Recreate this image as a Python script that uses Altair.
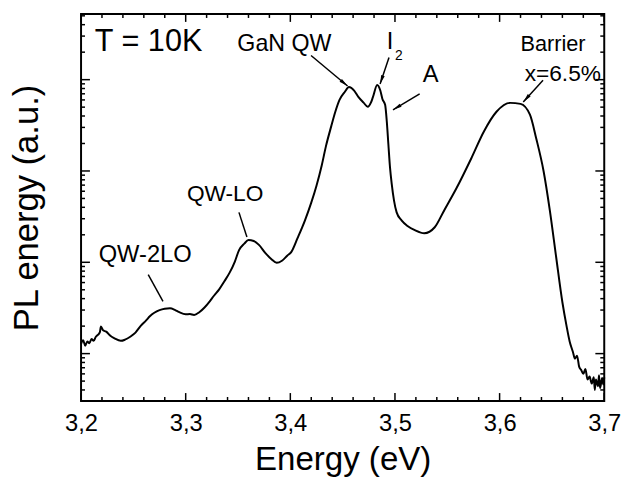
import math
import altair as alt
import pandas as pd

# ---------------- data ----------------
energy = [3.200, 3.202, 3.204, 3.206, 3.208, 3.210, 3.212, 3.214, 3.216, 3.218,
          3.219, 3.221, 3.224, 3.228, 3.232, 3.238, 3.242, 3.247, 3.252, 3.257,
          3.262, 3.266, 3.270, 3.275, 3.280, 3.285, 3.290, 3.294, 3.300, 3.304,
          3.308, 3.313, 3.318, 3.323, 3.327, 3.332, 3.337, 3.342, 3.347, 3.351,
          3.356, 3.360, 3.365, 3.370, 3.376, 3.382, 3.387, 3.392, 3.397, 3.401,
          3.407, 3.414, 3.420, 3.425, 3.430, 3.434, 3.439, 3.443, 3.447, 3.452,
          3.456, 3.461, 3.465, 3.470, 3.474, 3.477, 3.479, 3.483, 3.486, 3.488,
          3.4906, 3.4922, 3.4937, 3.4953, 3.4969, 3.4991, 3.5016, 3.5063, 3.512, 3.519,
          3.528, 3.538, 3.547, 3.559, 3.573, 3.585, 3.597, 3.610, 3.620, 3.629,
          3.635, 3.642, 3.648, 3.654, 3.660, 3.664, 3.667, 3.670, 3.672, 3.674,
          3.676, 3.678, 3.680, 3.682, 3.684, 3.686, 3.688, 3.690, 3.691, 3.692,
          3.694, 3.695, 3.696, 3.698, 3.699, 3.700]
intensity = [1.28, 1.40, 1.22, 1.36, 1.30, 1.45, 1.38, 1.52, 1.60, 1.72,
             1.98, 1.80, 1.74, 1.57, 1.47, 1.38, 1.42, 1.53, 1.70, 2.01,
             2.30, 2.58, 2.80, 2.99, 3.10, 3.14, 3.00, 2.84, 2.70, 2.71,
             2.65, 2.84, 3.20, 3.74, 4.30, 5.05, 6.20, 7.70, 10.2, 13.6,
             16.0, 17.5, 17.1, 15.5, 12.7, 10.8, 9.88, 10.4, 11.8, 13.0,
             18.5, 28.8, 45.0, 69.0, 115.0, 186.0, 306.0, 445.0, 600.0, 733.0,
             830.0, 760.0, 647.0, 560.0, 505.0, 560.0, 647.0, 873.0, 760.0, 615.0,
             530.0, 347.0, 196.0, 108.0, 72.3, 47.4, 35.2, 28.8, 25.0, 22.5,
             20.8, 24.2, 37.0, 65.5, 138.0, 271.0, 445.0, 557.0, 543.0, 413.0,
             227.0, 100.0, 37.0, 11.5, 3.65, 2.0, 1.35, 1.05, 0.88, 0.95,
             0.72, 0.66, 0.60, 0.68, 0.52, 0.56, 0.47, 0.55, 0.40, 0.52,
             0.44, 0.58, 0.42, 0.54, 0.46, 0.55]

x_major = [3.2, 3.3, 3.4, 3.5, 3.6, 3.7]
x_minor = [3.22, 3.24, 3.26, 3.28, 3.32, 3.34, 3.36, 3.38, 3.42, 3.44, 3.46, 3.48,
           3.52, 3.54, 3.56, 3.58, 3.62, 3.64, 3.66, 3.68]
y_major = [1, 10, 100, 1000]
y_minor = [0.4, 0.5, 0.6, 0.7, 0.8, 0.9,
           2, 3, 4, 5, 6, 7, 8, 9,
           20, 30, 40, 50, 60, 70, 80, 90,
           200, 300, 400, 500, 600, 700, 800, 900,
           2000, 3000, 4000, 5000]

# annotation texts and their anchor points (energy, intensity)
label_text = ["T = 10K", "GaN QW", "I", "2", "A", "Barrier", "x=6.5%", "QW-LO", "QW-2LO"]
label_e = [3.2132, 3.3943, 3.4953, 3.5038, 3.5340, 3.6510, 3.6604, 3.3377, 3.2613]
label_i = [2608, 2481, 2608, 1795, 1119, 2481, 1146, 56.4, 12.05]

# annotation lines: start (e0, i0) -> end (e1, i1); arrow head at end?
line_e0 = [3.4198, 3.4943, 3.5236, 3.6415, 3.3509, 3.2642]
line_i0 = [1841, 1750, 697, 988, 35.2, 7.33]
line_e1 = [3.4547, 3.4858, 3.4981, 3.6226, 3.3585, 3.2783]
line_i1 = [851, 894, 468, 571, 18.9, 3.74]
line_head = [True, True, True, True, False, False]

# ---------------- layout / style ----------------
W, H = 530, 392
X_DOM = [3.2, 3.7]
Y_DOM = [0.303, 5236.0]
FONT = "Liberation Sans"
label_size = {"T = 10K": 31, "GaN QW": 23.5, "I": 24, "2": 14, "A": 24,
              "Barrier": 22, "x=6.5%": 23, "QW-LO": 23, "QW-2LO": 24}


def px(e):
    return W * (e - X_DOM[0]) / (X_DOM[1] - X_DOM[0])


def py(v):
    lo, hi = math.log10(Y_DOM[0]), math.log10(Y_DOM[1])
    return H * (1 - (math.log10(v) - lo) / (hi - lo))


def inv_px(p):
    return X_DOM[0] + p / W * (X_DOM[1] - X_DOM[0])


def inv_py(p):
    lo, hi = math.log10(Y_DOM[0]), math.log10(Y_DOM[1])
    return 10 ** (lo + (1 - p / H) * (hi - lo))


xs = alt.Scale(domain=X_DOM, nice=False, zero=False)
ys = alt.Scale(type="log", domain=Y_DOM, nice=False)

xaxis = alt.Axis(values=x_major, labelExpr="replace(format(datum.value, '.1f'), '.', ',')",
                 ticks=False, domain=False, grid=False, labelFlush=False,
                 labelFont=FONT, labelFontSize=24, labelColor="black", labelPadding=11,
                 title="Energy (eV)", titleFont=FONT, titleFontSize=33.5,
                 titleFontWeight="normal", titleColor="black", titlePadding=8)
yaxis = alt.Axis(labels=False, ticks=False, domain=False, grid=False,
                 title="PL energy (a.u.)", titleFont=FONT, titleFontSize=35,
                 titleFontWeight="normal", titleColor="black", titlePadding=37)


def X(f):
    return alt.X(f, type="quantitative", scale=xs, axis=xaxis)


def Y(f):
    return alt.Y(f, type="quantitative", scale=ys, axis=yaxis)


spec = pd.DataFrame({"E": energy, "I": intensity})
line = alt.Chart(spec).mark_line(color="black", strokeWidth=2, interpolate="monotone").encode(
    x=X("E"), y=Y("I"))

xmaj = pd.DataFrame({"v": x_major})
xmin = pd.DataFrame({"v": x_minor})
ymaj = pd.DataFrame({"v": y_major})
ymin = pd.DataFrame({"v": y_minor})

tick_layers = []
for df, ln in ((xmaj, 8), (xmin, 4)):
    tick_layers.append(alt.Chart(df).mark_rule(color="black", strokeWidth=1.5).encode(
        x=X("v"), y=alt.value(H), y2=alt.value(H - ln)))
    tick_layers.append(alt.Chart(df).mark_rule(color="black", strokeWidth=1.5).encode(
        x=X("v"), y=alt.value(0), y2=alt.value(ln)))
for df, ln in ((ymaj, 9), (ymin, 4)):
    tick_layers.append(alt.Chart(df).mark_rule(color="black", strokeWidth=1.5).encode(
        y=Y("v"), x=alt.value(0), x2=alt.value(ln)))
    tick_layers.append(alt.Chart(df).mark_rule(color="black", strokeWidth=1.5).encode(
        y=Y("v"), x=alt.value(W), x2=alt.value(W - ln)))

text_layers = []
for t, e, i in zip(label_text, label_e, label_i):
    d = pd.DataFrame({"t": [t], "E": [e], "I": [i]})
    text_layers.append(alt.Chart(d).mark_text(
        font=FONT, fontSize=label_size[t], color="black",
        align="left" if t == "T = 10K" else "center", baseline="middle").encode(
        x=X("E"), y=Y("I"), text="t:N"))

lines_df = pd.DataFrame({"e0": line_e0, "i0": line_i0, "e1": line_e1, "i1": line_i1})
arrow_lines = alt.Chart(lines_df).mark_rule(color="black", strokeWidth=1.5).encode(
    x=X("e0"), y=Y("i0"), x2="e1:Q", y2="i1:Q")

HEAD = 9.0
he, hi_, ha = [], [], []
for e0, i0, e1, i1, h in zip(line_e0, line_i0, line_e1, line_i1, line_head):
    if not h:
        continue
    dx, dy = px(e1) - px(e0), py(i1) - py(i0)
    n = math.hypot(dx, dy)
    cx = px(e1) - dx / n * HEAD / 2
    cy = py(i1) - dy / n * HEAD / 2
    he.append(inv_px(cx))
    hi_.append(inv_py(cy))
    ha.append(math.degrees(math.atan2(dx, -dy)) % 360)
heads_df = pd.DataFrame({"E": he, "I": hi_, "ang": ha})
heads = alt.Chart(heads_df).mark_point(
    shape="M0,-1L0.42,1L-0.42,1Z", filled=True, color="black", opacity=1,
    size=HEAD * HEAD, strokeWidth=0).encode(
    x=X("E"), y=Y("I"), angle=alt.Angle("ang:Q", scale=None))

chart = alt.layer(line, *tick_layers, arrow_lines, heads, *text_layers).properties(
    width=W, height=H,
    background="white",
    autosize=alt.AutoSizeParams(type="none"),
    padding={"left": 74, "top": 3, "right": 19, "bottom": 78},
).configure_view(stroke="black", strokeWidth=2)

chart.save("out.html", embed_options={"renderer": "svg", "actions": False})
